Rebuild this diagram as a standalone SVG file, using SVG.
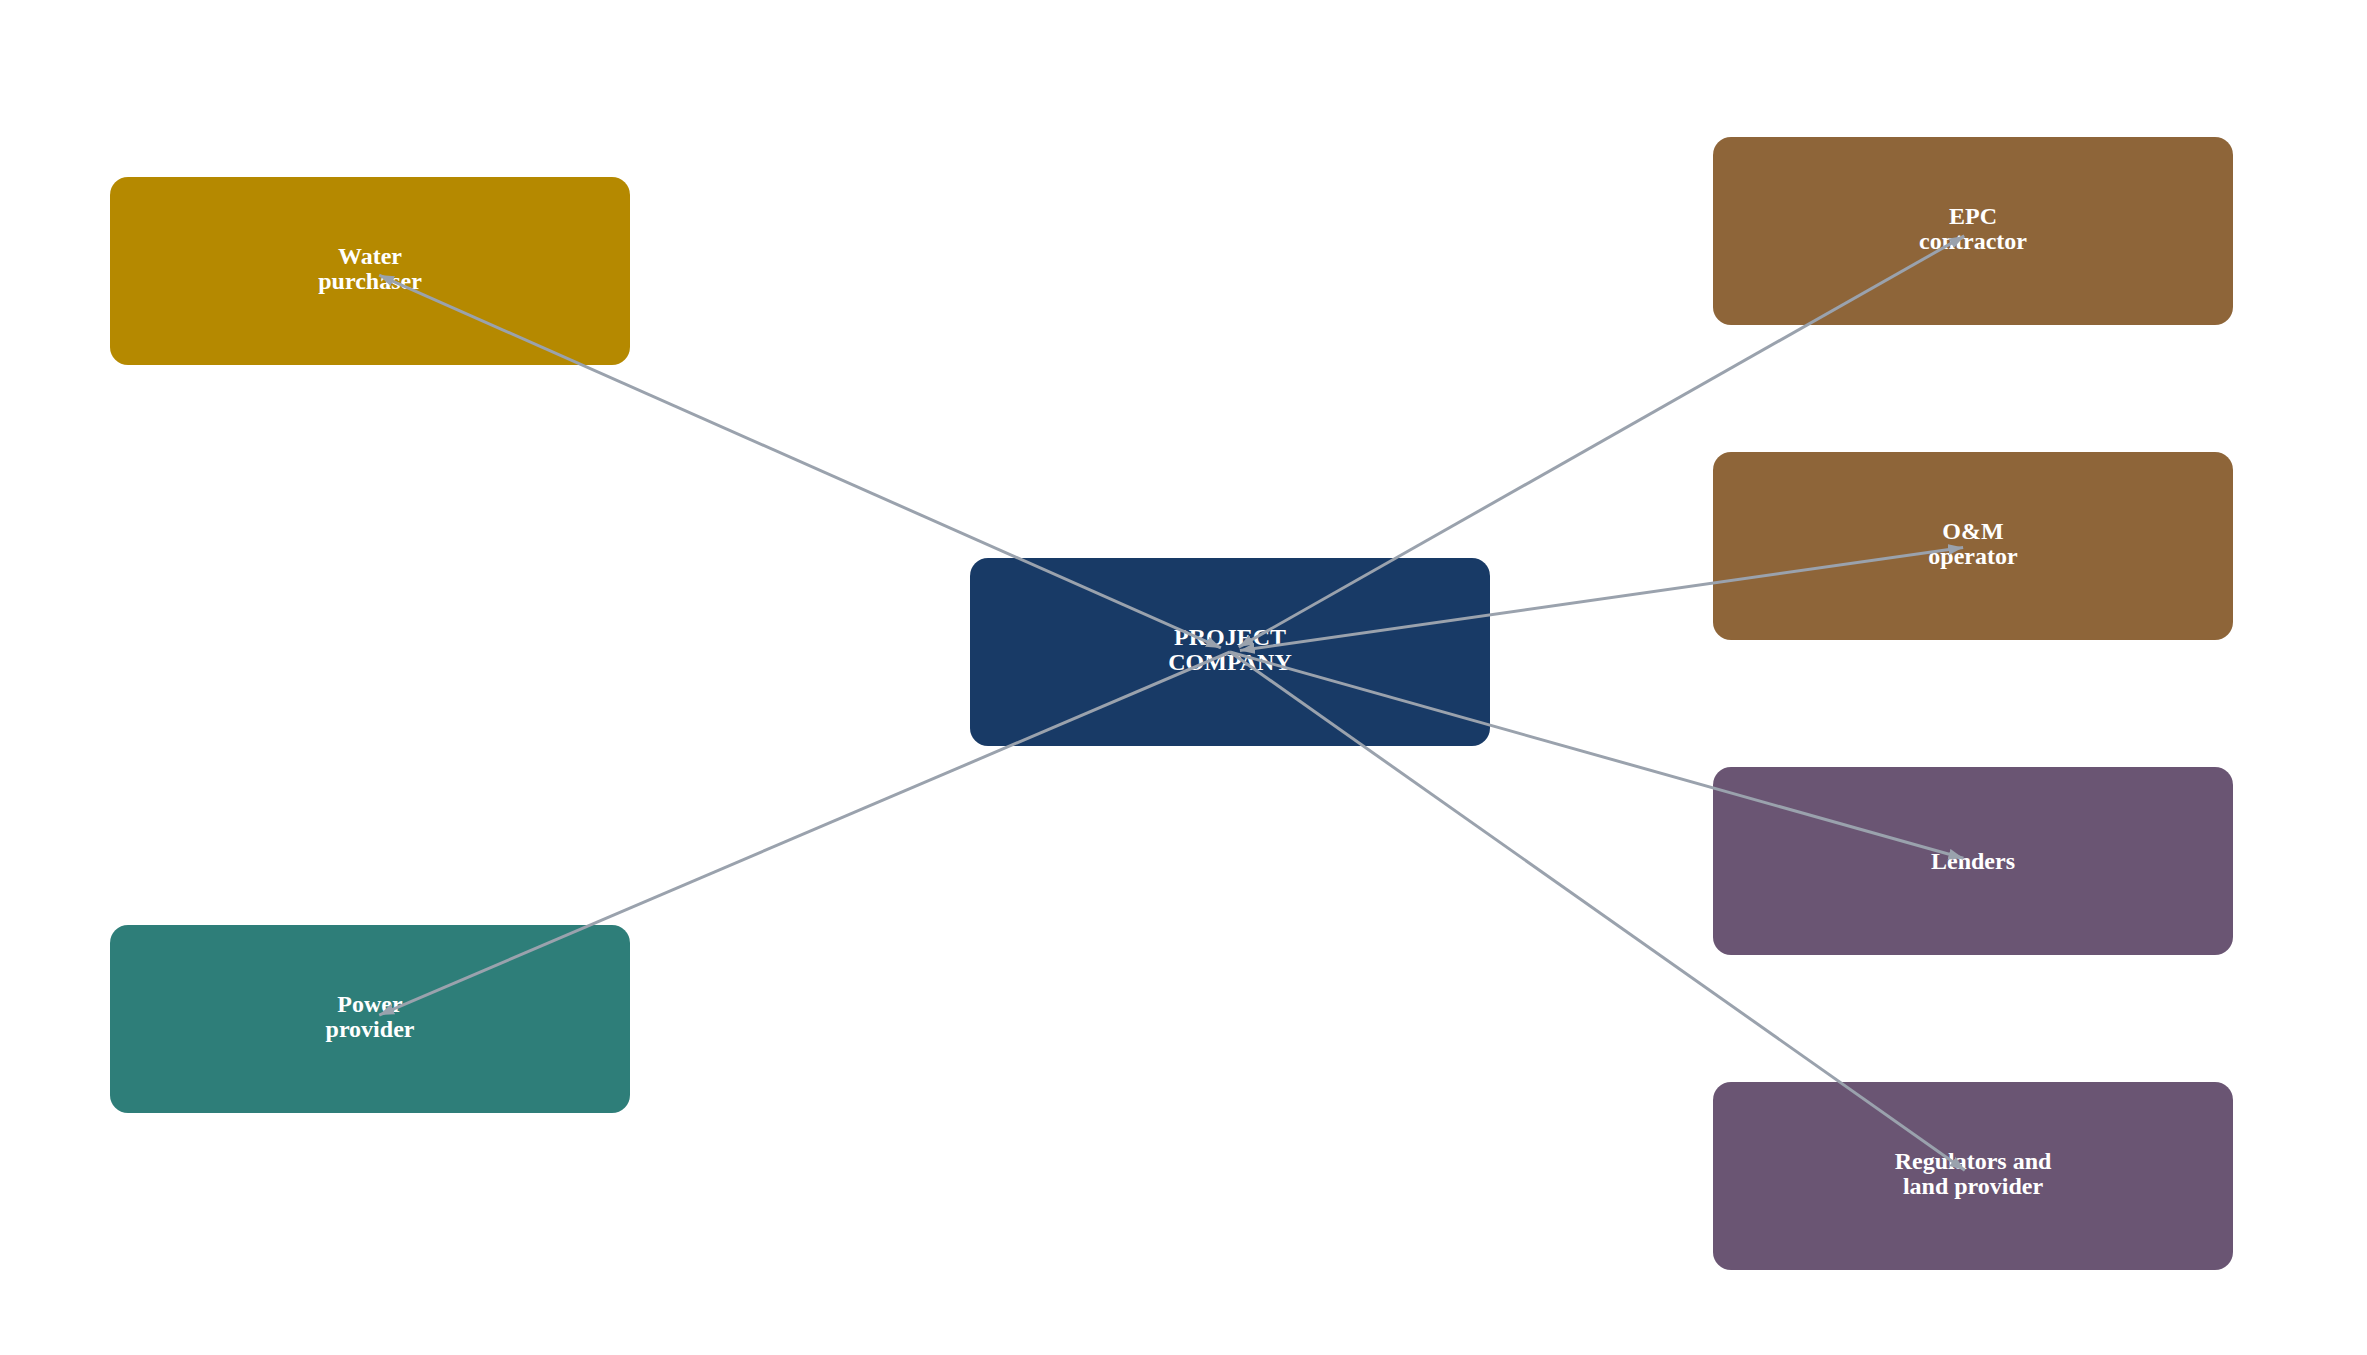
<svg xmlns="http://www.w3.org/2000/svg" width="2367" height="1355" viewBox="0 0 2367 1355">
<style>
.node rect{rx:18px;ry:18px}
.lbl{font-family:"Liberation Serif","Times New Roman",serif;font-weight:bold;font-size:24px;fill:#ffffff;text-anchor:middle}
.edge{stroke:#9AA2AD;stroke-width:3;fill:none;marker-end:url(#arr)}
</style>
<defs>
<marker id="arr" markerUnits="userSpaceOnUse" markerWidth="16" markerHeight="12" refX="15" refY="5.5" orient="auto-start-reverse">
<path d="M0,0 L15,5.5 L0,11 z" fill="#9AA2AD"/>
</marker>
</defs>
<rect width="2367" height="1355" fill="#ffffff"/>
<g id="n-water" class="node">
<rect x="110" y="177" width="520" height="188" fill="#B58900"/>
<text class="lbl" x="370" y="264">Water</text>
<text class="lbl" x="370" y="289">purchaser</text>
</g>
<g id="n-power" class="node">
<rect x="110" y="925" width="520" height="188" fill="#2E7E79"/>
<text class="lbl" x="370" y="1012">Power</text>
<text class="lbl" x="370" y="1037">provider</text>
</g>
<g id="n-project" class="node">
<rect x="970" y="558" width="520" height="188" fill="#183A66"/>
<text class="lbl" x="1230" y="645">PROJECT</text>
<text class="lbl" x="1230" y="670">COMPANY</text>
</g>
<g id="n-epc" class="node">
<rect x="1713" y="137" width="520" height="188" fill="#8E6539"/>
<text class="lbl" x="1973" y="224">EPC</text>
<text class="lbl" x="1973" y="249">contractor</text>
</g>
<g id="n-om" class="node">
<rect x="1713" y="452" width="520" height="188" fill="#8E6539"/>
<text class="lbl" x="1973" y="539">O&amp;M</text>
<text class="lbl" x="1973" y="564">operator</text>
</g>
<g id="n-lenders" class="node">
<rect x="1713" y="767" width="520" height="188" fill="#6A5573"/>
<text class="lbl" x="1973" y="869">Lenders</text>
</g>
<g id="n-regulators" class="node">
<rect x="1713" y="1082" width="520" height="188" fill="#6A5573"/>
<text class="lbl" x="1973" y="1169">Regulators and</text>
<text class="lbl" x="1973" y="1194">land provider</text>
</g>
<g id="connectors">
<line class="edge" x1="1220.9" y1="647.9" x2="379.1" y2="275.1" style="marker-start:url(#arr)"/>
<line class="edge" x1="1230" y1="652" x2="379.2" y2="1015.1"/>
<line class="edge" x1="1238.7" y1="647.1" x2="1964.3" y2="235.9" style="marker-start:url(#arr)"/>
<line class="edge" x1="1239.9" y1="650.6" x2="1963.1" y2="547.4" style="marker-start:url(#arr)"/>
<line class="edge" x1="1230" y1="652" x2="1963.4" y2="858.3"/>
<line class="edge" x1="1230" y1="652" x2="1964.8" y2="1170.2"/>
</g>
</svg>
